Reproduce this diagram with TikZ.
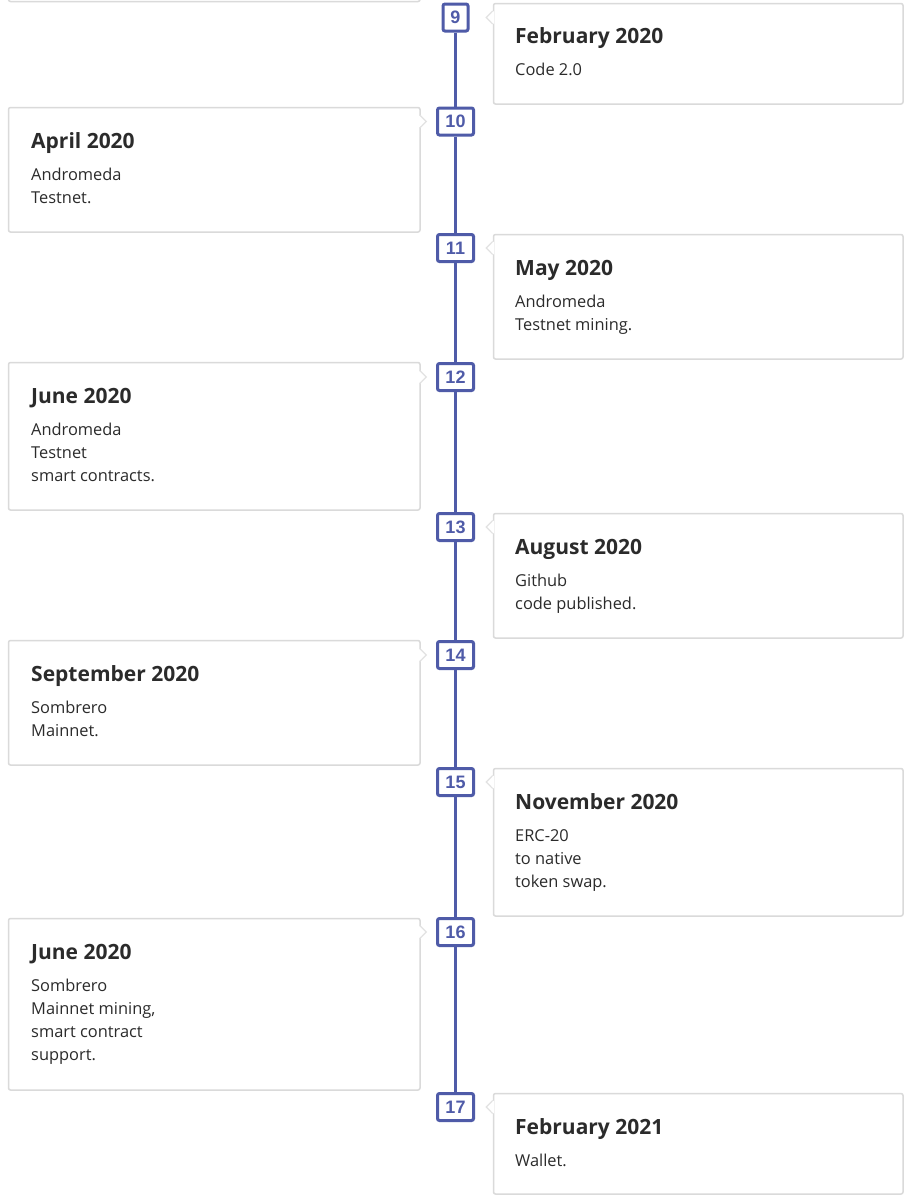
\documentclass[tikz,border=0pt]{standalone}
\usepackage{fontspec}
\setmainfont{Open Sans}
\newfontfamily\numfont{Liberation Sans}
\usetikzlibrary{backgrounds}
\definecolor{tlblue}{RGB}{79,91,168}
\definecolor{cardgray}{RGB}{218,218,218}
\definecolor{caretgray}{RGB}{226,226,226}
\definecolor{txt}{RGB}{43,43,43}
\tikzset{
  card/.style={draw=cardgray, line width=1.5pt, rounded corners=2pt, fill=white, anchor=north west, inner sep=0pt},
  rcard/.style={card, minimum width=409.5pt},
  lcard/.style={card, minimum width=411.5pt},
  numbox/.style={draw=tlblue, line width=3pt, rounded corners=2pt, fill=white, text=tlblue,
    font=\numfont\bfseries\fontsize{18}{18}\selectfont, minimum height=27pt, minimum width=36pt, inner xsep=7pt, inner ysep=0pt},
  tl/.style={draw=tlblue, line width=2.5pt},
  ttl/.style={anchor=base west, inner sep=0pt, text=txt, font=\bfseries\fontsize{21}{25}\selectfont},
  bdy/.style={anchor=north west, inner sep=0pt, text=txt, align=left, font=\fontsize{16.4}{23}\selectfont},
  caretline/.style={draw=caretgray, line width=1.2pt, line join=miter}
}
\newcommand{\rcaret}[1]{%
  \fill[white] (494,#1-6.5) -- (486,#1) -- (494,#1+6.5) -- cycle;
  \draw[caretline] (492.6,#1-6.5) -- (486.3,#1) -- (492.6,#1+6.5);}
\newcommand{\lcaret}[1]{%
  \fill[white] (418.5,#1-6.5) -- (426.5,#1) -- (418.5,#1+6.5) -- cycle;
  \draw[caretline] (419.9,#1-6.5) -- (426.2,#1) -- (419.9,#1+6.5);}
\begin{document}
\begin{tikzpicture}[x=1pt,y=-1pt]
\useasboundingbox (0,0) rectangle (917,1200);
\begin{scope}[on background layer]
\fill[white] (0,0) rectangle (917,1200);
\end{scope}

% partially visible card at top
\node[lcard, minimum height=40pt] (c8) at (7.75,-39.25) {};

% cards right
\node[rcard, minimum height=100.5pt] (c9) at (492.75,2.75) {};
\node[rcard, minimum height=124.5pt] (c11) at (492.75,233.75) {};
\node[rcard, minimum height=124.5pt] (c13) at (492.75,512.75) {};
\node[rcard, minimum height=147.5pt] (c15) at (492.75,767.75) {};
\node[rcard, minimum height=100.5pt] (c17) at (492.75,1092.75) {};
% cards left
\node[lcard, minimum height=124.5pt] (c10) at (7.75,106.75) {};
\node[lcard, minimum height=147.5pt] (c12) at (7.75,361.75) {};
\node[lcard, minimum height=124.5pt] (c14) at (7.75,639.75) {};
\node[lcard, minimum height=171.5pt] (c16) at (7.75,917.75) {};

% carets
\rcaret{17.5}
\lcaret{121.5}
\rcaret{248}
\lcaret{377}
\rcaret{527}
\lcaret{655}
\rcaret{782}
\lcaret{932}
\rcaret{1107}

% number boxes
\node[numbox, minimum width=25pt] (n9) at (455.5,17.5) {9};
\node[numbox] (n10) at (455.5,121.5) {10};
\node[numbox] (n11) at (455.5,248) {11};
\node[numbox] (n12) at (455.5,377) {12};
\node[numbox] (n13) at (455.5,527) {13};
\node[numbox] (n14) at (455.5,655) {14};
\node[numbox] (n15) at (455.5,782) {15};
\node[numbox] (n16) at (455.5,932) {16};
\node[numbox] (n17) at (455.5,1107) {17};

\begin{scope}[on background layer]
\draw[tl] (n9) -- (n10);
\draw[tl] (n10) -- (n11);
\draw[tl] (n11) -- (n12);
\draw[tl] (n12) -- (n13);
\draw[tl] (n13) -- (n14);
\draw[tl] (n14) -- (n15);
\draw[tl] (n15) -- (n16);
\draw[tl] (n16) -- (n17);
\end{scope}

% texts right
\node[ttl] (t9) at (515,43) {February 2020};
\node[bdy] (b9) at (515,59) {\rule{0pt}{16pt}Code 2.0};
\node[ttl] (t11) at (515,275) {May 2020};
\node[bdy] (b11) at (515,291) {\rule{0pt}{16pt}Andromeda\\Testnet mining.};
\node[ttl] (t13) at (515,554) {August 2020};
\node[bdy] (b13) at (515,570) {\rule{0pt}{16pt}Github\\code published.};
\node[ttl] (t15) at (515,809) {November 2020};
\node[bdy] (b15) at (515,825) {\rule{0pt}{16pt}ERC-20\\to native\\token swap.};
\node[ttl] (t17) at (515,1134) {February 2021};
\node[bdy] (b17) at (515,1150) {\rule{0pt}{16pt}Wallet.};
% texts left
\node[ttl] (t10) at (31,148) {April 2020};
\node[bdy] (b10) at (31,164) {\rule{0pt}{16pt}Andromeda\\Testnet.};
\node[ttl] (t12) at (31,403) {June 2020};
\node[bdy] (b12) at (31,419) {\rule{0pt}{16pt}Andromeda\\Testnet\\smart contracts.};
\node[ttl] (t14) at (31,681) {September 2020};
\node[bdy] (b14) at (31,697) {\rule{0pt}{16pt}Sombrero\\Mainnet.};
\node[ttl] (t16) at (31,959) {June 2020};
\node[bdy] (b16) at (31,975) {\rule{0pt}{16pt}Sombrero\\Mainnet mining,\\smart contract\\support.};
\end{tikzpicture}
\end{document}
